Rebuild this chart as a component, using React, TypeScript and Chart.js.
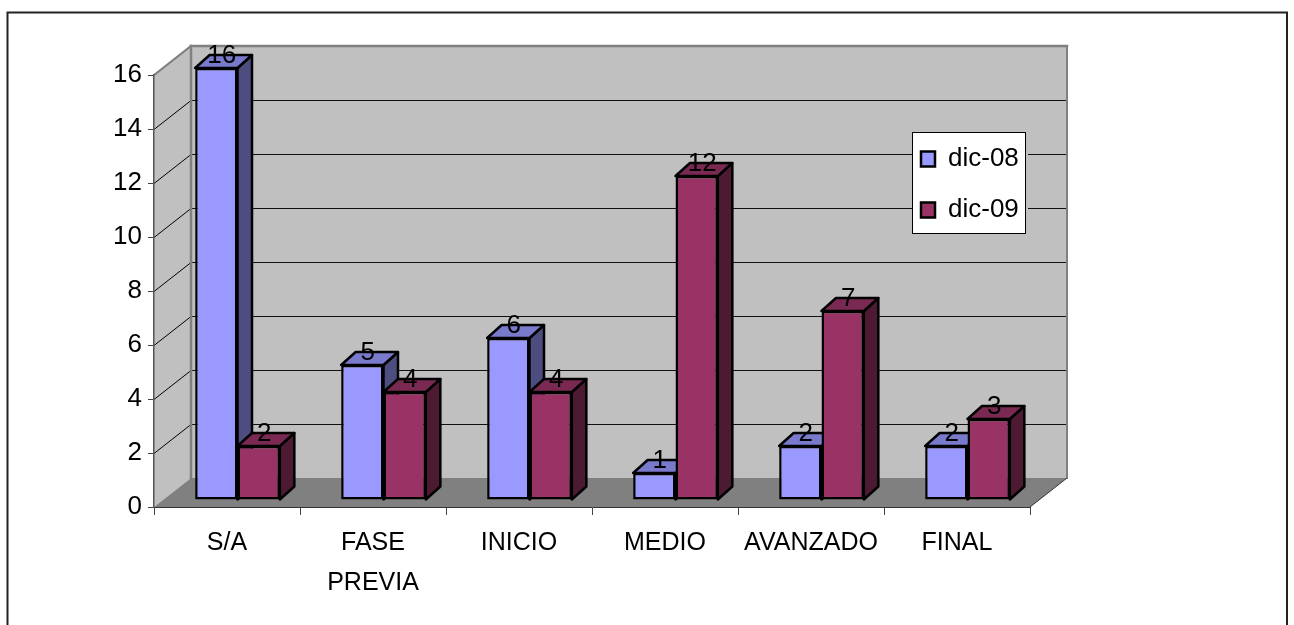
import React, { useEffect, useRef } from "react";
import { Chart, registerables } from "chart.js";

Chart.register(...registerables);

const categories = ["S/A", ["FASE", "PREVIA"], "INICIO", "MEDIO", "AVANZADO", "FINAL"];
const dic08 = [16, 5, 6, 1, 2, 2];
const dic09 = [2, 4, 4, 12, 7, 3];
const yTicksMax = 16;

const W = 1294, H = 625;
const AX_L = 154, AX_R = 1030, AX_T = 75, AX_B = 507;
const DX = 37, DY = -29;      // depth of the 3D box
const SHIFT_X = 10.5, SHIFT_Y = -7; // bars sit inside the floor
const BDX = 14.5, BDY = -13;  // depth of each bar
const FONT = "'Liberation Sans', Arial, sans-serif";

const fills = [
  { top: "#7A7ACC", side: "#4D4D80" },
  { top: "#7A2952", side: "#4D1A33" },
];

function poly(ctx: CanvasRenderingContext2D, pts: number[][], fill?: string, stroke?: string, lw = 1) {
  ctx.beginPath();
  pts.forEach((p, i) => (i ? ctx.lineTo(p[0], p[1]) : ctx.moveTo(p[0], p[1])));
  ctx.closePath();
  if (fill) { ctx.fillStyle = fill; ctx.fill(); }
  if (stroke) { ctx.strokeStyle = stroke; ctx.lineWidth = lw; ctx.lineJoin = "round"; ctx.stroke(); }
}
function line(ctx: CanvasRenderingContext2D, x1: number, y1: number, x2: number, y2: number, c: string, lw: number) {
  ctx.beginPath(); ctx.moveTo(x1, y1); ctx.lineTo(x2, y2);
  ctx.strokeStyle = c; ctx.lineWidth = lw; ctx.stroke();
}

const scene3d = {
  id: "scene3d",
  afterLayout(chart: any) {
    const lg = chart.legend;
    if (lg) { lg.left = 896; lg.top = 121; lg.right = 1026; lg.bottom = 507; }
  },
  beforeDraw(chart: any) {
    const ctx = chart.ctx as CanvasRenderingContext2D;
    const { x, y } = chart.scales;
    const L = x.left, R = x.right, B = y.getPixelForValue(0), T = y.getPixelForValue(yTicksMax);
    ctx.save();
    ctx.fillStyle = "#fff"; ctx.fillRect(0, 0, W, H);
    // outer frame
    ctx.strokeStyle = "#222"; ctx.lineWidth = 2;
    ctx.beginPath(); ctx.moveTo(7.5, H + 5); ctx.lineTo(7.5, 12.5); ctx.lineTo(1287, 12.5); ctx.lineTo(1287, H + 5); ctx.stroke();
    // walls and floor
    poly(ctx, [[L + DX, T + DY], [R + DX, T + DY], [R + DX, B + DY], [L + DX, B + DY]], "#C0C0C0");
    poly(ctx, [[L, T], [L + DX, T + DY], [L + DX, B + DY], [L, B]], "#C0C0C0");
    poly(ctx, [[L, B], [L + DX, B + DY], [R + DX, B + DY], [R, B]], "#808080");
    // gridlines
    for (const t of y.ticks) {
      if (t.value === 0 || t.value === yTicksMax) continue;
      const p = Math.round(y.getPixelForValue(t.value));
      line(ctx, L, p + 0.5, L + DX, p + DY + 0.5, "#000", 1);
      line(ctx, L + DX, p + DY + 0.5, R + DX, p + DY + 0.5, "#111", 1);
    }
    // wall edges
    ctx.lineCap = "square";
    line(ctx, L, T, L + DX, T + DY, "#808080", 2);
    line(ctx, L + DX, T + DY, R + DX, T + DY, "#808080", 2.5);
    line(ctx, L + DX, T + DY, L + DX, B + DY, "#808080", 2.5);
    line(ctx, R + DX, T + DY, R + DX, B + DY, "#808080", 2);
    ctx.lineCap = "butt";
    line(ctx, R, B, R + DX, B + DY, "#333", 1);
    // legend box
    ctx.fillStyle = "#C0C0C0"; ctx.fillRect(1026, 130, 2, 106);
    ctx.fillStyle = "#fff"; ctx.fillRect(912.5, 132.5, 113, 101);
    ctx.strokeStyle = "#000"; ctx.lineWidth = 1; ctx.strokeRect(912.5, 132.5, 113, 101);
    ctx.restore();
  },
  beforeDatasetsDraw(chart: any) {
    const ctx = chart.ctx as CanvasRenderingContext2D;
    ctx.save();
    chart.data.datasets.forEach((_: any, di: number) => {
      chart.getDatasetMeta(di).data.forEach((el: any) => {
        const xl = el.x - el.width / 2 + SHIFT_X, xr = el.x + el.width / 2 + SHIFT_X;
        const yt = el.y + SHIFT_Y, yb = el.base + SHIFT_Y;
        poly(ctx, [[xr, yt], [xr + BDX, yt + BDY], [xr + BDX, yb + BDY], [xr, yb]], fills[di].side, "#000", 2.5);
        poly(ctx, [[xl, yt], [xl + BDX, yt + BDY], [xr + BDX, yt + BDY], [xr, yt]], fills[di].top, "#000", 2.5);
      });
    });
    ctx.restore();
  },
  beforeDatasetDraw(chart: any) {
    chart.ctx.save();
    chart.ctx.translate(SHIFT_X, SHIFT_Y);
  },
  afterDatasetDraw(chart: any) {
    chart.ctx.restore();
  },
  afterDatasetsDraw(chart: any) {
    const ctx = chart.ctx as CanvasRenderingContext2D;
    ctx.save();
    ctx.font = `26px ${FONT}`;
    ctx.fillStyle = "#000";
    ctx.textAlign = "center";
    ctx.textBaseline = "alphabetic";
    chart.data.datasets.forEach((ds: any, di: number) => {
      chart.getDatasetMeta(di).data.forEach((el: any, i: number) => {
        ctx.fillText(String(ds.data[i]), el.x + SHIFT_X + 5.5, el.y + SHIFT_Y - 5.5);
      });
    });
    ctx.restore();
  },
};

export default function App() {
  const ref = useRef<HTMLCanvasElement>(null);
  useEffect(() => {
    const chart = new Chart(ref.current!, {
      type: "bar",
      data: {
        labels: categories as any,
        datasets: [
          { label: "dic-08", data: dic08, backgroundColor: "#9999FF", borderColor: "#000", borderWidth: 2.5, borderSkipped: false, clip: false as any },
          { label: "dic-09", data: dic09, backgroundColor: "#993366", borderColor: "#000", borderWidth: 2.5, borderSkipped: false, clip: false as any },
        ],
      },
      options: {
        animation: false,
        responsive: false,
        devicePixelRatio: 1,
        layout: { padding: { left: 0, right: W - AX_R, top: AX_T, bottom: 0 } },
        datasets: { bar: { categoryPercentage: 0.58, barPercentage: 1 } },
        plugins: {
          tooltip: { enabled: false },
          legend: {
            display: true,
            position: "chartArea" as any,
            align: "start",
            labels: { boxWidth: 14, boxHeight: 15, padding: 25, color: "#000", font: { family: FONT, size: 26 } },
          },
        },
        scales: {
          x: {
            type: "category",
            afterFit: (s: any) => { s.height = H - AX_B; },
            grid: { drawOnChartArea: false, drawTicks: true, tickLength: 8, color: "#444" },
            border: { color: "#333", width: 1 },
            ticks: { color: "#000", padding: 8, maxRotation: 0, minRotation: 0, autoSkip: false, font: { family: FONT, size: 25, lineHeight: 1.6 } },
          },
          y: {
            type: "linear",
            min: 0,
            max: yTicksMax,
            afterFit: (s: any) => { s.width = AX_L; },
            grid: { drawOnChartArea: false, drawTicks: true, tickLength: 6, color: "#444" },
            border: { color: "#555", width: 1.5 },
            ticks: { color: "#000", stepSize: 2, padding: 6, font: { family: FONT, size: 26 } },
          },
        },
      },
      plugins: [scene3d],
    } as any);
    return () => chart.destroy();
  }, []);
  return (
    <div style={{ position: "absolute", left: 0, top: 0 }}>
      <canvas ref={ref} width={W} height={H} style={{ display: "block", width: W, height: H }} />
    </div>
  );
}
